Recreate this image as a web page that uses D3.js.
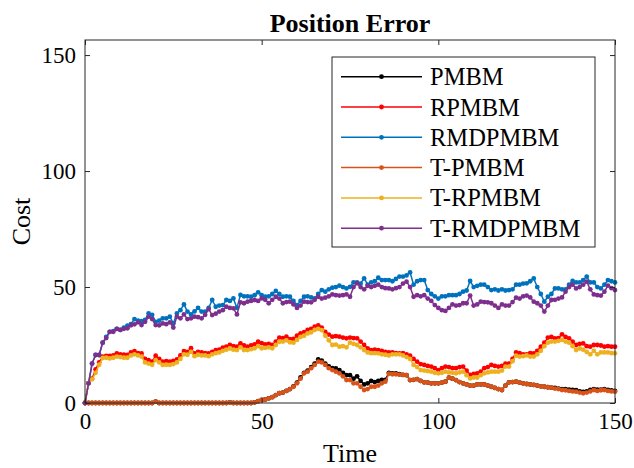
<!DOCTYPE html>
<html>
<head>
<meta charset="utf-8">
<script src="https://cdn.jsdelivr.net/npm/d3@7"></script>
<style>
  body { margin: 0; background: #fff; }
  text { font-family: "Liberation Serif", "Times New Roman", serif; fill: #000; }
</style>
</head>
<body>
<svg id="chart" width="634" height="468"></svg>
<script>
// Time steps 0..150
const time = d3.range(0, 151);

const pmbm = [
  0,0,0,0,0,0,0,0,0,0,
  0,0,0,0,0,0,0,0,0,0,
  0.6,0,0,0,0,0,0,0,0,0,
  0,0,0,0,0,0,0,0,0,0,
  0,0.3,0,0,0,0,0,0,0.3,0.8,
  1.3,1.5,2,2.5,3.4,4.2,4.5,5.2,6,7.2,
  8.8,11,13,14,15.5,17,18.8,18.3,17,15.8,
  15,14.9,14.2,13,12,12,10.5,11.5,9.5,8,
  8.5,9.5,9,9.5,10,10,13,12.8,12.8,12.4,
  12.1,12,9.9,10,10.3,9.5,8.9,8.8,8.5,8.5,
  8.5,8.8,9.2,10.9,10.5,9.9,9,8.5,8,7.5,
  7.5,8,8,8,7.5,7,6.5,6,5.6,7.5,
  8.9,9,9.2,8.8,8.5,8.2,8,7.8,7.5,7.2,
  7,6.8,6.6,6.5,6.2,6,6,5.8,5.6,5.5,
  5,4.8,5,5.6,6,5.8,5.8,6,5.6,5.4,
  5.2
];

const rpmbm = [
  0,8.6,10.5,14.5,17.5,20,20.3,20.3,20.5,21.4,
  21,20.8,20.7,21.8,22.4,21.5,21.4,19,18.5,17.8,
  20.4,19,17.8,18,17.8,18.2,18.8,20.5,22.4,22,
  23.6,21.4,22,21.8,21.5,21.4,22,22.8,23,23.9,
  24.3,25,24.5,24.3,25.7,24.8,24.3,24.8,25.3,26.4,
  25.8,25.3,25.5,25,26.5,28.2,28,28.6,27.5,27.6,
  29,30,30.5,31.5,32,32.9,33.5,32.5,30.7,29.5,
  28.6,28.8,28.6,28.2,27.9,28.2,28,27.9,26.5,25,
  23.5,22.8,23,22.8,22.5,22,21.8,21.8,21.5,21.4,
  21.5,21,20.4,19,17.8,16.8,16.4,16,15.7,15,
  14.2,15,15.7,15.5,15,15,15.5,15.7,14,12.1,
  12.5,12.8,13.5,15,15.5,16.4,16,15.7,16,17,
  17,19,21.8,21.5,21,21,21.5,21.4,22.5,24.3,
  26,28.2,28.5,27.9,28,29.6,28.5,27.9,26.5,25,
  25.5,25.7,24.5,24.3,25,25,24.8,24.3,24.5,24.3,
  24.3
];

const rmdpmbm = [
  0,8.5,17,20.7,20.7,26,28.5,30.7,31,32,
  31.5,32.5,33.3,34,36.2,35.5,35.3,35.8,38.6,38,
  35,35.5,36.5,36.5,37.2,34.3,38.6,40,42.5,39.4,
  38.2,39.5,41,39.4,39.4,41,44.4,41.5,42,42.2,
  44.4,44,45.1,41,46.6,46,46,45.8,46.5,47.7,
  46.5,45.8,46,47,48.3,47,45.8,46,45.8,44,
  42.2,44,45.8,46,45.5,45.1,47,48.7,48,49,
  49.7,50,50.6,50,49.4,50.1,52,52,51.5,53.7,
  51,52,52.5,54,53,53,53,52.5,53.5,54.5,
  54.5,55,56.3,51,52.5,53,53,48.7,47,46,
  45,46,46,46.5,46.5,46.5,47,48,48.5,52.6,
  50,50.5,51,51,50,48.7,49,48.5,49,48.5,
  48.7,49,51,51,51.5,51.6,52.5,53.7,50,47,
  43.7,45.8,47,49.4,49.4,49,49,51,52.6,52,
  52,53,54.5,52,52,50,49.4,51,53,52.5,
  52
];

const tPmbm = [
  0,0,0,0,0,0,0,0,0,0,
  0,0,0,0,0,0,0,0,0,0,
  0.6,0,0,0,0,0,0,0,0,0,
  0,0,0,0,0,0,0,0,0,0,
  0,0.3,0,0,0,0,0,0,0.3,0.8,
  1.3,1.5,2,2.5,3.4,4.2,4.5,5.2,6,7,
  8.5,10.5,12.8,13.5,15,16.4,17.8,17.5,16.4,15,
  14.2,13.5,12.8,11.5,9.9,9.9,8.5,8.5,7,5.6,
  6,7,7,7.5,8.5,9.2,12.6,12.4,12.4,12.2,
  12.1,12,9.9,10,10.3,9.5,8.9,8.8,8.5,8.5,
  8.5,8.8,9.2,10.9,10.5,9.9,9,8.5,8,7.5,
  7.5,8,8,8,7.5,7,6.5,6,5.6,7.5,
  8.9,9,9.2,8.8,8.5,8.2,8,7.8,7.5,7.2,
  7,6.8,6.6,6.2,6,5.6,5.5,5.2,5,4.9,
  4.5,4.2,4.5,5,5.6,5.2,5.5,5.6,5.2,5,
  4.9
];

const tRpmbm = [
  0,8.6,10.2,13,16.5,19.4,19.5,19.2,19.5,20,
  19.8,19.5,19.5,20.5,21,20.5,20,17.5,17,16.5,
  18.5,17.5,16.4,16.5,16.4,16.8,17.5,19,21,20.8,
  22,20.2,20.8,20.5,20.5,20.2,21,21.5,21.8,22.5,
  23,23.5,23,22.8,24,22.8,22.8,23.2,23.6,24.5,
  23.6,23.8,24,23.6,25,26.4,26.5,27,26.2,26,
  27.2,28.5,29,30,30.5,31.5,32,31.4,29,27,
  25,25.2,24.3,24.5,24,26,25.5,25,24,22.8,
  21.8,21.5,21.5,21.4,21,20.8,20.5,21,21,21,
  20.5,19.8,19,16.4,15.5,14.2,14,13.8,13.5,13,
  12.8,13,13.5,13.2,13,12.8,13.2,13.5,12,10.6,
  11,11,12,12.8,13.2,13.5,13.5,13.5,14,15.7,
  15.7,18,20.4,20,20.2,20.5,20,20,21,22.5,
  24.5,26,26.5,26.5,26.8,27.2,26.5,26,24.5,22.8,
  23.5,23,22,21,22.5,21,21.8,21.8,21.8,21.5,
  21.4
];

const tRmdpmbm = [
  0,8.5,17,20.7,20.7,26,28,30.7,30.7,32,
  31.5,32,32.2,33.5,33.9,34.8,33.6,35,37.2,36.2,
  33.6,33.5,34.3,34,34.8,32.5,37.2,36.5,38.2,36.2,
  36.5,37.2,37,36.5,38,40.5,37.9,38.5,39.4,40,
  41.5,41,40.8,38.2,43.4,43,43.7,44,44.4,44,
  45.1,44.5,43,44.5,45.8,45,43,43.5,43.7,42.5,
  41,42,43.7,43.5,43.4,44.5,45.8,45,45.4,46,
  46.8,46.5,46.3,46.5,46.8,45.8,50,51.6,50,49,
  50.5,50,50.5,51,50,49.5,49.4,49,49.5,50,
  51.5,52.3,50,45.8,46.5,46,46.5,45,44,42.2,
  41,40,39.7,41,42.5,42,42.2,43,43,46.3,
  42,42.5,43.7,43.5,43.4,43,42,41,42.5,42,
  42,43.5,45.4,45,46,46.3,45.5,43.7,43,42,
  39.4,42,44.4,44.5,45,45.5,48,50,51,49.4,
  50,51,52.3,49,46.8,46.5,46.3,48,50.6,49.5,
  48.7
];

const seriesNames = ["PMBM", "RPMBM", "RMDPMBM", "T-PMBM", "T-RPMBM", "T-RMDPMBM"];
const seriesValues = [pmbm, rpmbm, rmdpmbm, tPmbm, tRpmbm, tRmdpmbm];
const seriesColors = ["#000000", "#FF0000", "#0072BD", "#D95319", "#EDB120", "#7E2F8E"];

const xTicks = [0, 50, 100, 150];
const yTicks = [0, 50, 100, 150];

const W = 634, H = 468;
const margin = { top: 40, right: 19, bottom: 65, left: 85 };
const plotW = W - margin.left - margin.right;
const plotH = H - margin.top - margin.bottom;

const svg = d3.select("#chart");
const g = svg.append("g").attr("transform", `translate(${margin.left},${margin.top})`);

const x = d3.scaleLinear().domain([0, 150]).range([0, plotW]);
const y = d3.scaleLinear().domain([0, 156.5]).range([plotH, 0]);

const axisColor = "#262626";
const markerR = 2.4;

// Data lines with point markers
const line = d3.line().x((d, i) => x(time[i])).y(d => y(d));

seriesValues.forEach((vals, k) => {
  const s = g.append("g").attr("class", "series");
  s.append("path")
    .datum(vals)
    .attr("d", line)
    .attr("fill", "none")
    .attr("stroke", seriesColors[k])
    .attr("stroke-width", 1.5)
    .attr("stroke-linejoin", "round");
  s.selectAll("circle")
    .data(vals)
    .join("circle")
    .attr("cx", (d, i) => x(time[i]))
    .attr("cy", d => y(d))
    .attr("r", markerR)
    .attr("fill", seriesColors[k]);
});

// Axes (box with inward ticks on all sides)
const tickLen = 5;
const fontTick = 23;

const xAxisB = d3.axisBottom(x).tickValues(xTicks).tickSizeInner(-tickLen).tickSizeOuter(0).tickPadding(10);
const xAxisT = d3.axisTop(x).tickValues(xTicks).tickSizeInner(-tickLen).tickSizeOuter(0).tickFormat("");
const yAxisL = d3.axisLeft(y).tickValues(yTicks).tickSizeInner(-tickLen).tickSizeOuter(0).tickPadding(9);
const yAxisR = d3.axisRight(y).tickValues(yTicks).tickSizeInner(-tickLen).tickSizeOuter(0).tickFormat("");

function styleAxis(sel) {
  sel.select(".domain").remove();
  sel.selectAll(".tick line").attr("stroke", axisColor).attr("stroke-width", 1);
  sel.selectAll(".tick text")
    .attr("font-size", fontTick)
    .attr("fill", "#000")
    .style("font-family", "'Liberation Serif', 'Times New Roman', serif");
}

g.append("g").attr("transform", `translate(0,${plotH})`).call(xAxisB).call(styleAxis);
g.append("g").call(xAxisT).call(styleAxis);
g.append("g").call(yAxisL).call(styleAxis);
g.append("g").attr("transform", `translate(${plotW},0)`).call(yAxisR).call(styleAxis);

g.append("rect")
  .attr("x", 0).attr("y", 0)
  .attr("width", plotW).attr("height", plotH)
  .attr("fill", "none")
  .attr("stroke", axisColor)
  .attr("stroke-width", 1);

// Title and axis labels
svg.append("text")
  .attr("x", margin.left + plotW / 2)
  .attr("y", 32)
  .attr("text-anchor", "middle")
  .attr("font-size", 26)
  .attr("font-weight", "bold")
  .text("Position Error");

svg.append("text")
  .attr("x", margin.left + plotW / 2)
  .attr("y", 462)
  .attr("text-anchor", "middle")
  .attr("font-size", 26)
  .text("Time");

svg.append("text")
  .attr("transform", `translate(30,${margin.top + plotH / 2}) rotate(-90)`)
  .attr("text-anchor", "middle")
  .attr("font-size", 26)
  .text("Cost");

// Legend
const legend = svg.append("g").attr("transform", "translate(332,57)");
legend.append("rect")
  .attr("width", 263).attr("height", 190)
  .attr("fill", "#fff")
  .attr("stroke", axisColor)
  .attr("stroke-width", 1);

seriesNames.forEach((name, k) => {
  const yy = 19.7 + k * 30.3;
  const row = legend.append("g").attr("transform", `translate(0,${yy})`);
  row.append("line")
    .attr("x1", 9).attr("x2", 90)
    .attr("y1", 0).attr("y2", 0)
    .attr("stroke", seriesColors[k])
    .attr("stroke-width", 1.5);
  row.append("circle")
    .attr("cx", 49.5).attr("cy", 0).attr("r", markerR)
    .attr("fill", seriesColors[k]);
  row.append("text")
    .attr("x", 98).attr("y", 0)
    .attr("dy", "0.35em")
    .attr("font-size", 24.5)
    .text(name);
});
</script>
</body>
</html>
